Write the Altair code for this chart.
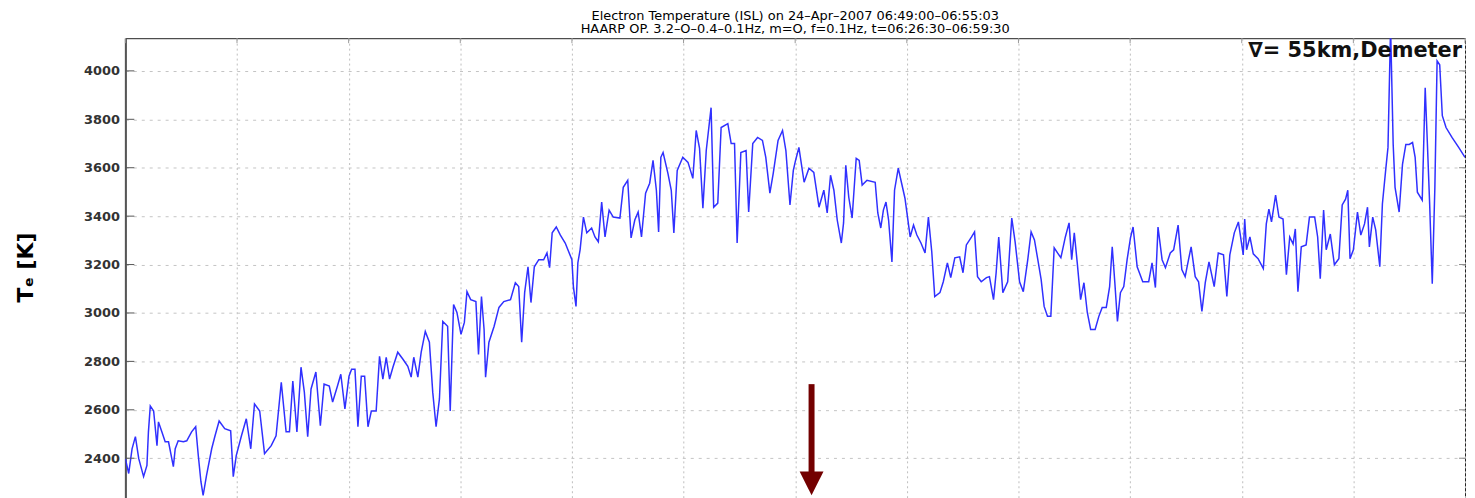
import altair as alt
import pandas as pd

# ---- data (time in s after 06:49:00, electron temperature in K) ----
t_seg1 = [0.0,0.9,1.8,2.7,3.6,4.9,5.8,6.2,6.7,7.6,8.5,8.9,9.8,10.7,11.6,12.9,13.4,14.2,15.6,16.5,
          17.8,18.9,19.6,20.3,20.9,21.8,23.2,24.1,25.2,26.7,28.3,29.0,29.8,31.2,32.5,33.7,34.7,36.1,37.4,39.2,
          40.5,41.9,43.2,44.1,45.0,46.1,47.2,48.1,49.0,49.9,51.2,52.4,53.4,54.8,55.7,57.0,57.9,59.0,60.1]
te_seg1 = [2398,2337,2439,2489,2398,2324,2370,2509,2616,2595,2452,2550,2509,2468,2468,2365,2439,2472,2468,2472,
           2509,2530,2411,2304,2246,2328,2439,2493,2554,2522,2513,2324,2411,2493,2563,2439,2624,2595,2419,2452,
           2493,2714,2509,2509,2719,2509,2776,2673,2489,2686,2756,2534,2706,2698,2632,2698,2747,2604,2739]

t_seg2 = [60.8,61.7,62.5,63.4,64.3,65.2,66.1,67.4,68.3,69.2,70.1,71.0,71.9,73.2,74.6,75.9,76.8,77.5,78.6,79.5,
          80.6,81.7,82.6,83.5,84.4,85.3,86.6,87.3,88.2,89.1,90.2,91.1,91.8,92.8,94.2,94.9,95.7,96.4,96.8,97.7,
          99.1,100.4,101.7,103.5,104.8,105.7,106.5,107.3,108.2,109.0,109.9,111.1,112.4,113.3,114.0,114.7,115.8,116.9,118.2,120.0]
te_seg2 = [2768,2768,2530,2739,2739,2530,2595,2595,2821,2727,2817,2727,2776,2838,2809,2780,2735,2817,2735,2838,
           2924,2879,2673,2530,2645,2965,2945,2595,3035,3002,2912,2961,3088,3055,3047,2829,3068,2932,2735,2879,
           2945,3023,3047,3055,3125,3109,2879,3084,3191,3043,3191,3220,3220,3248,3187,3331,3355,3322,3289,3220]

t_seg3 = [120.4,121.1,121.6,122.2,123.1,124.0,125.3,126.2,127.1,128.0,128.9,130.0,131.1,132.9,133.8,135.0,135.9,136.9,137.8,138.7,
          139.8,140.9,141.8,142.7,143.3,143.9,144.5,145.8,146.7,147.4,148.3,149.8,151.2,152.5,153.4,154.3,155.2,156.1,157.4,158.1,
          159.2,160.1,161.9,162.8,163.7,164.4,165.4,166.8,167.5,168.6,169.9,171.2,172.1,173.2,174.1,175.4,176.6,177.5,178.6,179.5,180.1]
te_seg3 = [3109,3027,3207,3261,3396,3331,3351,3314,3294,3458,3314,3425,3396,3392,3519,3548,3310,3384,3417,3314,
           3495,3536,3630,3507,3335,3643,3663,3577,3507,3331,3589,3643,3622,3556,3754,3680,3433,3671,3848,3437,
           3454,3766,3782,3700,3700,3289,3663,3671,3417,3700,3725,3713,3643,3495,3577,3713,3754,3671,3446,3589,3630]

t_seg4 = [181.0,182.4,183.7,185.0,186.4,187.7,188.6,189.5,190.4,191.3,192.4,193.0,193.6,194.4,195.3,196.4,197.2,198.0,199.3,201.5,
          202.2,203.0,203.7,204.4,205.1,206.0,206.7,207.7,208.6,209.5,210.9,211.8,212.7,213.8,214.9,215.8,216.7,217.5,218.9,219.8,
          220.9,221.8,222.9,224.2,225.1,226.0,227.4,228.2,229.0,230.0,231.4,232.2,233.3,234.0,234.7,235.8,237.1,238.2,239.1,240.3]
te_seg4 = [3684,3540,3598,3581,3437,3507,3413,3569,3507,3384,3289,3372,3610,3478,3392,3639,3630,3528,3548,3540,
           3413,3351,3425,3458,3384,3211,3507,3598,3536,3474,3314,3363,3322,3289,3248,3396,3253,3068,3084,3129,
           3207,3146,3228,3232,3166,3281,3314,3335,3150,3129,3146,3150,3055,3166,3314,3084,3129,3392,3294,3129]

t_seg5 = [241.3,242.5,243.4,244.3,245.2,246.1,246.9,247.8,248.7,249.6,250.5,251.4,252.6,253.6,254.3,255.0,255.8,256.7,257.6,258.5,
          259.4,260.6,261.6,262.5,263.6,264.5,265.2,265.9,266.6,267.4,268.3,269.2,270.1,270.8,271.9,273.4,275.0,275.9,276.8,277.5,
          278.6,279.5,280.8,281.7,282.9,283.9,284.8,285.7,286.4,287.5,288.4,289.3,290.2,291.2,292.6,293.7,295.1,296.0,296.8,298.0,
          299.1,300.4]
te_seg5 = [3088,3220,3335,3302,3220,3138,3027,2986,2986,3269,3248,3228,3314,3372,3220,3331,3207,3055,3125,3002,
           2932,2932,2986,3023,3023,3109,3273,3125,2965,3084,3109,3220,3310,3355,3191,3129,3129,3207,3105,3355,
           3220,3187,3248,3261,3363,3179,3150,3220,3273,3150,3129,3006,3125,3211,3109,3248,3240,3068,3240,3331,
           3376,3240]

t_seg6 = [300.8,301.3,302.2,303.1,304.4,305.8,306.6,307.3,308.0,309.1,310.0,311.1,312.0,312.9,313.8,314.4,315.1,316.0,317.3,318.2,
          319.6,320.4,321.1,322.0,322.7,323.8,324.9,326.1,327.0,327.9,328.5,329.1,330.0,331.1,332.0,333.0,333.8,334.3,335.2,336.0,
          337.1,337.8,338.7,339.3,340.0,340.7,341.2,342.3,343.2,344.1,345.0,345.9,346.6,347.2,348.5,349.3,349.9,350.5,351.2,351.9,
          352.5,353.2,353.9,354.9,356.5,358.3,360.0]
te_seg6 = [3388,3261,3314,3244,3224,3183,3368,3429,3376,3487,3396,3388,3158,3314,3285,3347,3088,3273,3281,3396,
           3396,3314,3142,3425,3261,3326,3199,3224,3446,3470,3507,3224,3261,3417,3322,3368,3437,3273,3396,3343,
           3191,3450,3593,3684,4180,3696,3519,3417,3614,3696,3696,3704,3643,3499,3466,3930,3696,3450,3121,3519,
           4041,4025,3815,3766,3725,3684,3643]

x_ticks = [0, 30, 60, 90, 120, 150, 180, 210, 240, 270, 300, 330, 360]
y_ticks = [2400, 2600, 2800, 3000, 3200, 3400, 3600, 3800, 4000]
y_domain = [2200, 4135]

arrow_time = [184.4]
arrow_top = [2706]
arrow_shaft_end = [2330]
arrow_head = [2296]

title_lines = ["Electron Temperature (ISL) on 24\u2013Apr\u20132007 06:49:00\u201306:55:03",
               "HAARP OP. 3.2\u2013O\u20130.4\u20130.1Hz, m=O, f=0.1Hz, t=06:26:30\u201306:59:30"]
annotation = ["\u2207= 55km,Demeter"]
y_title = "T\u2091 [K]"

# ---- build ----
t_all = t_seg1 + t_seg2 + t_seg3 + t_seg4 + t_seg5 + t_seg6
te_all = te_seg1 + te_seg2 + te_seg3 + te_seg4 + te_seg5 + te_seg6
assert len(t_all) == len(te_all)
df = pd.DataFrame({"t": t_all, "te": te_all})

W, H = 1347, 471
xs = alt.Scale(domain=[0, 360], nice=False, zero=False)
ys = alt.Scale(domain=y_domain, nice=False, zero=False)

line = alt.Chart(df).mark_line(color="#3030ff", strokeWidth=1.5, clip=True).encode(
    x=alt.X("t:Q", scale=xs,
            axis=alt.Axis(values=x_ticks, grid=True, gridDash=[2, 3], gridColor="#bdbdbd",
                          labels=False, ticks=False, domain=False, title=None)),
    y=alt.Y("te:Q", scale=ys,
            axis=alt.Axis(values=y_ticks, format="d", grid=True, gridDash=[3, 5], gridColor="#c4c4c4",
                          tickSize=0, labelPadding=6, labelFont="DejaVu Sans", labelFontSize=13,
                          labelFontWeight="bold", labelColor="#333",
                          domainColor="#555", domainWidth=2,
                          title=y_title, titleFont="DejaVu Sans", titleFontSize=22,
                          titleFontWeight="bold", titleColor="#000", titleAngle=-90,
                          titleX=-93, titleY=230, titleAlign="center", titleBaseline="alphabetic")),
)

ytick_df = pd.DataFrame({"v": y_ticks})
left_ticks = alt.Chart(ytick_df).mark_rule(color="#555", strokeWidth=1).encode(
    y=alt.Y("v:Q", scale=ys), x=alt.value(0), x2=alt.value(9))
right_ticks = alt.Chart(ytick_df).mark_rule(color="#888", strokeWidth=1).encode(
    y=alt.Y("v:Q", scale=ys), x=alt.value(W - 6), x2=alt.value(W))
xtick_df = pd.DataFrame({"t": x_ticks})
top_ticks = alt.Chart(xtick_df).mark_rule(color="#999", strokeWidth=1).encode(
    x=alt.X("t:Q", scale=xs), y=alt.value(0), y2=alt.value(5))

arrow_df = pd.DataFrame({"t": arrow_time, "y1": arrow_top, "y2": arrow_shaft_end, "yh": arrow_head})
shaft = alt.Chart(arrow_df).mark_rule(color="#730000", strokeWidth=6).encode(
    x=alt.X("t:Q", scale=xs), y=alt.Y("y1:Q", scale=ys), y2="y2:Q")
head = alt.Chart(arrow_df).mark_point(shape="M-1,-1L1,-1L0,1Z", filled=True, size=576,
                                      color="#730000", opacity=1).encode(
    x=alt.X("t:Q", scale=xs), y=alt.Y("yh:Q", scale=ys))

ann = alt.Chart(pd.DataFrame({"label": annotation})).mark_text(
    align="right", baseline="middle", font="DejaVu Sans", fontSize=21, fontWeight="bold", color="#111"
).encode(text="label:N", x=alt.value(W - 3), y=alt.value(13))

chart = alt.layer(line, left_ticks, right_ticks, top_ticks, shaft, head, ann).properties(
    width=W, height=H,
    title=alt.TitleParams(text=title_lines, font="DejaVu Sans", fontSize=13, fontWeight="normal",
                          color="#000", anchor="middle", lineHeight=13, offset=2),
    autosize=alt.AutoSizeParams(type="none"),
    padding={"left": 118, "top": 29, "right": 2, "bottom": 0},
).configure_view(stroke="#222", strokeWidth=1)

chart.save("out.html", embed_options={"renderer": "svg", "actions": False})
